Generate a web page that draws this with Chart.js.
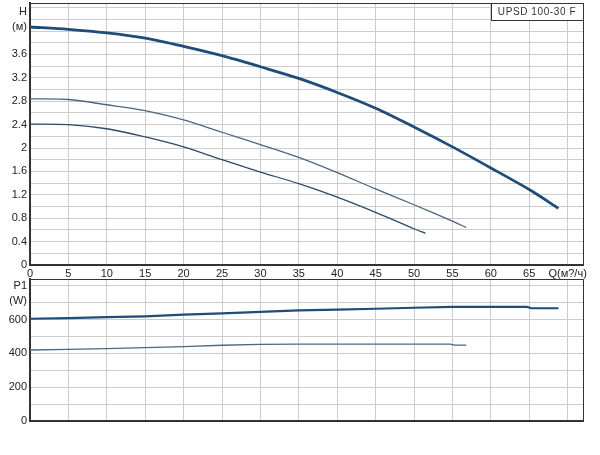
<!DOCTYPE html>
<html>
<head>
<meta charset="utf-8">
<script src="https://cdn.jsdelivr.net/npm/chart.js@4/dist/chart.umd.min.js"></script>
<style>
  body { margin: 0; background: #fff; }
  #wrap { position: relative; width: 600px; height: 455px; }
  canvas { position: absolute; left: 0; }
  #headChart { top: 0; }
  #powerChart { top: 276px; }
</style>
</head>
<body>
<div id="wrap">
  <canvas id="headChart" width="600" height="279"></canvas>
  <canvas id="powerChart" width="600" height="179"></canvas>
</div>
<script>
// ---- data ----
const qTicks = [0, 5, 10, 15, 20, 25, 30, 35, 40, 45, 50, 55, 60, 65, 70];
const qAxisLabel = 'Q(м?/ч)';

const hTicks = [0, 0.2, 0.4, 0.6, 0.8, 1, 1.2, 1.4, 1.6, 1.8, 2, 2.2, 2.4, 2.6, 2.8, 3, 3.2, 3.4, 3.6, 3.8, 4, 4.2, 4.4];
const hTickLabels = ['0', '', '0.4', '', '0.8', '', '1.2', '', '1.6', '', '2', '', '2.4', '', '2.8', '', '3.2', '', '3.6', '', '', ['H', '(м)'], ''];

const pTicks = [0, 100, 200, 300, 400, 500, 600, 700, 755, 800];
const pTickLabels = ['0', '', '200', '', '400', '', '600', '', ['P1', '(W)'], ''];

const title = 'UPSD 100-30 F';

// head curves (Q m3/h, H m)
const q1 = [0, 5, 10, 15, 20, 25, 30, 35, 40, 45, 50, 55, 60, 65, 68.8];
const h1 = [4.07, 4.03, 3.97, 3.88, 3.74, 3.58, 3.39, 3.19, 2.95, 2.68, 2.36, 2.02, 1.66, 1.29, 0.97];

const q2 = [0, 5, 10, 15, 20, 25, 30, 35, 40, 45, 50, 55, 56.8];
const h2 = [2.84, 2.83, 2.74, 2.64, 2.48, 2.27, 2.06, 1.84, 1.58, 1.30, 1.03, 0.75, 0.64];

const q3 = [0, 5, 10, 15, 20, 25, 30, 35, 40, 45, 50, 51.5];
const h3 = [2.41, 2.40, 2.33, 2.19, 2.02, 1.80, 1.59, 1.39, 1.16, 0.90, 0.62, 0.54];

// power curves (Q m3/h, P1 W)
const qp1 = [0, 5, 10, 15, 20, 25, 30, 35, 40, 45, 50, 55, 60, 64.7, 65.3, 68.8];
const p1 = [605, 609, 614, 619, 629, 637, 645, 654, 659, 664, 670, 675, 675, 675, 667, 667];

const qp2 = [0, 5, 10, 15, 20, 25, 30, 35, 40, 45, 50, 54.7, 55.3, 56.8];
const p2 = [420, 424, 428, 434, 440, 448, 453, 455, 455, 455, 455, 455, 449, 449];

const toXY = (xs, ys) => xs.map((x, i) => ({ x: x, y: ys[i] }));

const gridColor = '#cccccc';
const axisColor = '#333333';
const tickFont = { family: 'Liberation Sans, Arial, sans-serif', size: 11 };

// thin frame on top/right + model box
const framePlugin = {
  id: 'frame',
  afterDatasetsDraw(chart, args, opts) {
    const { ctx, chartArea: a } = chart;
    ctx.save();
    ctx.strokeStyle = axisColor;
    ctx.lineWidth = 1;
    ctx.beginPath();
    ctx.moveTo(a.left, a.top + 0.5);
    ctx.lineTo(a.right + 0.5, a.top + 0.5);
    ctx.lineTo(a.right + 0.5, a.bottom);
    ctx.stroke();
    if (opts.title) {
      const bx = 491, by = a.top, bw = a.right - 491, bh = 17;
      ctx.fillStyle = '#fff';
      ctx.fillRect(bx, by, bw, bh);
      ctx.strokeRect(bx + 0.5, by + 0.5, bw, bh);
      ctx.fillStyle = '#333';
      ctx.font = '10px Liberation Sans, Arial, sans-serif';
      ctx.letterSpacing = '0.6px';
      ctx.textAlign = 'center';
      ctx.textBaseline = 'middle';
      ctx.fillText(opts.title, bx + bw / 2, by + bh / 2 + 1);
    }
    ctx.restore();
  }
};

function xScale(showLabels) {
  return {
    type: 'linear',
    min: 0,
    max: 72,
    afterBuildTicks: s => { s.ticks = qTicks.map(v => ({ value: v })); },
    afterFit: s => { s.height = showLabels ? 14 : 0; s.paddingLeft = 0; s.paddingRight = 0; },
    grid: { color: gridColor, drawTicks: false },
    border: { color: axisColor, width: 2 },
    ticks: {
      display: showLabels,
      autoSkip: false,
      maxRotation: 0,
      padding: 2,
      color: '#222',
      font: tickFont,
      callback: v => (v === 70 ? qAxisLabel : String(v))
    }
  };
}

function yScale(max, ticks, labels, skipGrid) {
  return {
    min: 0,
    max: max,
    afterBuildTicks: s => { s.ticks = ticks.map(v => ({ value: v })); },
    afterFit: s => { s.width = 30; s.paddingTop = 0; s.paddingBottom = 0; },
    grid: {
      drawTicks: false,
      color: c => (c.tick && c.tick.value === skipGrid ? 'rgba(0,0,0,0)' : gridColor)
    },
    border: { color: axisColor, width: 2 },
    ticks: {
      autoSkip: false,
      padding: 3,
      color: '#222',
      font: { family: tickFont.family, size: 11, lineHeight: 1.3 },
      callback: (v, i) => labels[i]
    }
  };
}

const baseOptions = {
  responsive: false,
  animation: false,
  devicePixelRatio: 1,
  plugins: { legend: { display: false }, tooltip: { enabled: false } },
  elements: { point: { radius: 0 } }
};

new Chart(document.getElementById('headChart'), {
  type: 'line',
  data: {
    datasets: [
      { data: toXY(q1, h1), borderColor: '#1f4d78', borderWidth: 2.8, tension: 0.3 },
      { data: toXY(q2, h2), borderColor: '#4d6680', borderWidth: 1.3, tension: 0.3 },
      { data: toXY(q3, h3), borderColor: '#2f4a66', borderWidth: 1.3, tension: 0.3 }
    ]
  },
  options: Object.assign({}, baseOptions, {
    layout: { padding: { top: 3, right: 17, left: 0, bottom: 0 } },
    scales: { x: xScale(true), y: yScale(4.48, hTicks, hTickLabels, null) },
    plugins: Object.assign({}, baseOptions.plugins, { frame: { title: title } })
  }),
  plugins: [framePlugin]
});

new Chart(document.getElementById('powerChart'), {
  type: 'line',
  data: {
    datasets: [
      { data: toXY(qp1, p1), borderColor: '#1f4d78', borderWidth: 2.2, tension: 0 },
      { data: toXY(qp2, p2), borderColor: '#4a6882', borderWidth: 1.3, tension: 0 }
    ]
  },
  options: Object.assign({}, baseOptions, {
    layout: { padding: { top: 3, right: 17, left: 0, bottom: 34 } },
    scales: { x: xScale(false), y: yScale(840, pTicks, pTickLabels, 755) },
    plugins: Object.assign({}, baseOptions.plugins, { frame: {} })
  }),
  plugins: [framePlugin]
});
</script>
</body>
</html>
